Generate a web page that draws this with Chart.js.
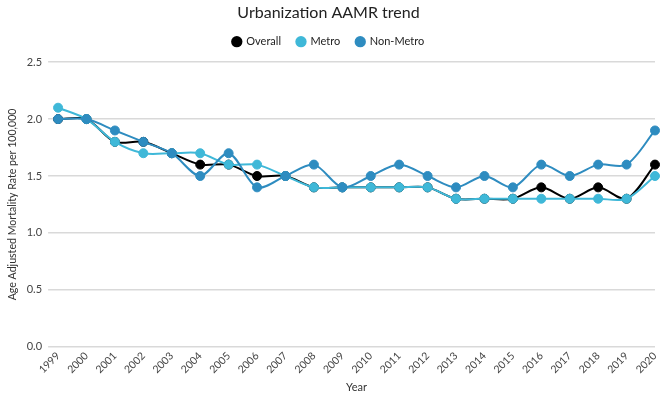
<!DOCTYPE html>
<html>
<head>
<meta charset="utf-8">
<script src="https://cdn.jsdelivr.net/npm/chart.js@4"></script>
<style>
html,body{margin:0;padding:0;background:#fff;}
#wrap{width:669px;height:395px;position:relative;}
</style>
</head>
<body>
<div id="wrap"><canvas id="c" width="669" height="395"></canvas></div>
<script>
const years = ["1999","2000","2001","2002","2003","2004","2005","2006","2007","2008","2009","2010","2011","2012","2013","2014","2015","2016","2017","2018","2019","2020"];
const overall = [2.0,2.0,1.8,1.8,1.7,1.6,1.6,1.5,1.5,1.4,1.4,1.4,1.4,1.4,1.3,1.3,1.3,1.4,1.3,1.4,1.3,1.6];
const metro = [2.1,2.0,1.8,1.7,1.7,1.7,1.6,1.6,1.5,1.4,1.4,1.4,1.4,1.4,1.3,1.3,1.3,1.3,1.3,1.3,1.3,1.5];
const nonMetro = [2.0,2.0,1.9,1.8,1.7,1.5,1.7,1.4,1.5,1.6,1.4,1.5,1.6,1.5,1.4,1.5,1.4,1.6,1.5,1.6,1.6,1.9];

const FONT = "Lato, 'Open Sans', sans-serif";
function ds(label, data, color, order){
  return {label, data, borderColor: color, backgroundColor: color, pointBackgroundColor: color,
    pointBorderColor: color, pointRadius: 4.5, pointBorderWidth: 1, pointHoverRadius: 4.5, borderWidth: 2, tension: 0.3, order};
}
new Chart(document.getElementById('c'), {
  type: 'line',
  data: {
    labels: years,
    datasets: [
      ds('Overall', overall, '#000000', 3),
      ds('Metro', metro, '#3fb8d8', 2),
      ds('Non-Metro', nonMetro, '#2e8cc0', 1)
    ]
  },
  options: {
    responsive: false,
    animation: false,
    devicePixelRatio: 1,
    layout: {padding: {left: 2, right: 14, top: 0, bottom: 1}},
    plugins: {
      title: {display: true, text: 'Urbanization AAMR trend', color: '#222', font: {family: FONT, size: 16, weight: 'normal'}, padding: {top: 3, bottom: -2}},
      subtitle: {display: true, text: '', weight: 500, font: {size: 1, lineHeight: 1}, padding: {top: 4, bottom: 0}},
      legend: {
        display: true,
        labels: {
          usePointStyle: true, pointStyle: 'circle', boxWidth: 8, boxHeight: 8, padding: 16, color: '#222',
          font: {family: FONT, size: 11},
          sort: (a, b) => a.datasetIndex - b.datasetIndex,
          generateLabels: (chart) => {
            const items = Chart.defaults.plugins.legend.labels.generateLabels(chart);
            items.forEach(it => { it.lineWidth = 0; });
            return items;
          }
        }
      },
      tooltip: {enabled: false}
    },
    scales: {
      x: {
        offset: false,
        grid: {display: false, drawTicks: false},
        border: {display: false},
        title: {display: true, text: 'Year', color: '#333', font: {family: FONT, size: 11}, padding: {top: 2, bottom: 0}},
        ticks: {color: '#444', font: {family: FONT, size: 10.5}, maxRotation: 45, minRotation: 45, autoSkip: false, padding: 3}
      },
      y: {
        min: 0, max: 2.5,
        ticks: {stepSize: 0.5, color: '#444', font: {family: FONT, size: 11}, padding: 6, callback: v => v.toFixed(1)},
        grid: {color: '#d9d9d9', lineWidth: 1.5, tickLength: 10},
        border: {display: false},
        title: {display: true, text: 'Age Adjusted Mortality Rate per 100,000', color: '#333', font: {family: FONT, size: 10.6}, padding: {bottom: 2}}
      }
    }
  }
});
</script>
</body>
</html>
